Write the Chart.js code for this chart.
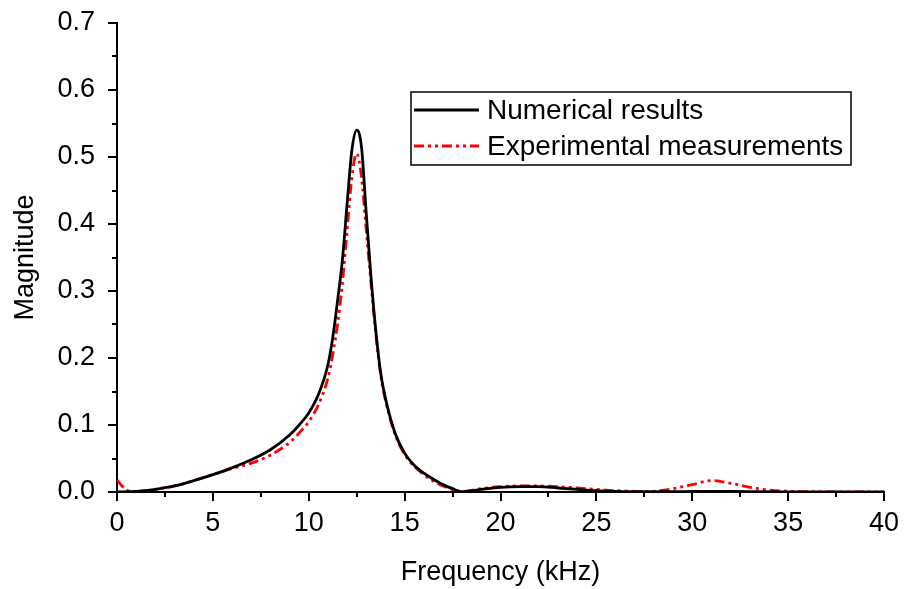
<!DOCTYPE html>
<html>
<head>
<meta charset="utf-8">
<script src="https://cdn.jsdelivr.net/npm/chart.js@4.4.1/dist/chart.umd.min.js"></script>
<style>
    html, body { margin: 0; padding: 0; background: #fff; }
    #wrap { width: 905px; height: 589px; }
</style>
</head>
<body>
<div id="wrap"><canvas id="chart" width="905" height="589"></canvas></div>
<script>
// Frequency (kHz) / magnitude for the numerical model
const numFreq = [0, 0.5, 1, 1.5, 2, 3, 4, 5, 6, 7, 8, 9, 9.5, 10, 10.5, 11, 11.25, 11.5, 11.75,
    12, 12.25, 12.5, 12.75, 13, 13.25, 13.5, 13.75, 14, 14.5, 15, 15.5, 16, 16.5, 17, 17.5, 18,
    19, 20, 21, 22, 23, 24, 25, 26, 28, 30, 31, 33, 35, 40];
const numMag = [0.000, 0.0005, 0.001, 0.002, 0.004, 0.009, 0.017, 0.026, 0.036, 0.048, 0.063, 0.085, 0.100, 0.118, 0.145, 0.190, 0.230, 0.285, 0.345,
    0.430, 0.510, 0.540, 0.515, 0.415, 0.320, 0.240, 0.178, 0.140, 0.088, 0.058, 0.040, 0.028, 0.019, 0.011, 0.005, 0.0005,
    0.004, 0.007, 0.008, 0.008, 0.006, 0.004, 0.002, 0.001, 0.0005, 0.0008, 0.001, 0.0005, 0.0003, 0.0002];

// Frequency (kHz) / magnitude from the measurements
const expFreq = [0, 0.3, 0.7, 1, 2, 3, 4, 5, 6, 7, 8, 9, 9.5, 10, 10.5, 11, 11.25, 11.5, 11.75,
    12, 12.25, 12.5, 12.75, 13, 13.25, 13.5, 13.75, 14, 14.5, 15, 16, 17, 18,
    19, 20, 21, 22, 23, 24, 25, 26, 27, 27.5, 28, 29, 30, 31, 32, 33, 34, 35, 36, 40];
const expMag = [0.018, 0.008, 0.001, 0.001, 0.004, 0.009, 0.017, 0.026, 0.035, 0.043, 0.055, 0.074, 0.088, 0.105, 0.130, 0.170, 0.205, 0.250, 0.310,
    0.390, 0.470, 0.505, 0.470, 0.390, 0.310, 0.235, 0.175, 0.137, 0.086, 0.056, 0.026, 0.009, 0.001,
    0.005, 0.008, 0.009, 0.009, 0.008, 0.006, 0.004, 0.002, 0.001, 0.0005, 0.001, 0.005, 0.011, 0.017, 0.013, 0.007, 0.003, 0.001, 0.0005, 0.0];

const seriesLabels = ['Numerical results', 'Experimental measurements'];
const xTicks = [0, 5, 10, 15, 20, 25, 30, 35, 40];
const yTicks = [0.0, 0.1, 0.2, 0.3, 0.4, 0.5, 0.6, 0.7];

const FONT = "'Liberation Sans', Arial, sans-serif";
const RED_DASH = [10, 4, 3, 4, 3, 4];

const toPoints = (xs, ys) => xs.map((x, i) => ({ x: x, y: ys[i] }));

/**
 * Outward major/minor tick marks on the left and bottom axes
 */
const tickMarks = {
    id: 'tickMarks',
    afterDraw(chart) {
        const ctx = chart.ctx;
        const xs = chart.scales.x;
        const ys = chart.scales.y;
        const area = chart.chartArea;
        ctx.save();
        ctx.strokeStyle = '#000';
        ctx.lineWidth = 2;
        ctx.beginPath();
        for (let v = xs.min; v <= xs.max + 1e-9; v += 2.5) {
            const px = Math.round(xs.getPixelForValue(v));
            const major = Math.abs(v % 5) < 1e-9;
            ctx.moveTo(px, area.bottom);
            ctx.lineTo(px, area.bottom + (major ? 9 : 5));
        }
        for (let v = ys.min; v <= ys.max + 1e-9; v += 0.05) {
            const py = Math.round(ys.getPixelForValue(v));
            const major = Math.abs(Math.round(v * 100) % 10) === 0;
            ctx.moveTo(area.left, py);
            ctx.lineTo(area.left - (major ? 9 : 5), py);
        }
        ctx.stroke();
        ctx.restore();
    }
};

/**
 * Boxed legend in the upper right part of the plot
 */
const boxLegend = {
    id: 'boxLegend',
    afterDraw(chart) {
        const ctx = chart.ctx;
        const box = { x: 411, y: 92, w: 440, h: 73 };
        ctx.save();
        ctx.fillStyle = '#fff';
        ctx.fillRect(box.x, box.y, box.w, box.h);
        ctx.strokeStyle = '#000';
        ctx.lineWidth = 1.5;
        ctx.strokeRect(box.x, box.y, box.w, box.h);
        ctx.font = '28px ' + FONT;
        ctx.textBaseline = 'middle';
        ctx.textAlign = 'left';
        chart.data.datasets.forEach((ds, i) => {
            const y = box.y + 18 + i * 36;
            ctx.strokeStyle = ds.borderColor;
            ctx.lineWidth = ds.borderWidth;
            ctx.setLineDash(ds.borderDash || []);
            ctx.beginPath();
            ctx.moveTo(box.x + 3, y);
            ctx.lineTo(box.x + 68, y);
            ctx.stroke();
            ctx.setLineDash([]);
            ctx.fillStyle = '#000';
            ctx.fillText(ds.label, box.x + 76, y + 1);
        });
        ctx.restore();
    }
};

const ctx = document.getElementById('chart').getContext('2d');

new Chart(ctx, {
    type: 'line',
    data: {
        datasets: [
            {
                label: seriesLabels[0],
                data: toPoints(numFreq, numMag),
                borderColor: '#000000',
                borderWidth: 2.8,
                pointRadius: 0,
                cubicInterpolationMode: 'monotone',
                fill: false
            },
            {
                label: seriesLabels[1],
                data: toPoints(expFreq, expMag),
                borderColor: '#ff0000',
                borderWidth: 2.8,
                borderDash: RED_DASH,
                pointRadius: 0,
                cubicInterpolationMode: 'monotone',
                fill: false
            }
        ]
    },
    options: {
        responsive: false,
        animation: false,
        devicePixelRatio: 1,
        layout: {
            padding: { left: 0, right: 21, top: 23, bottom: 0 }
        },
        plugins: {
            legend: { display: false },
            tooltip: { enabled: false }
        },
        scales: {
            x: {
                type: 'linear',
                min: 0,
                max: 40,
                afterFit: (scale) => {
                    scale.height = 97;
                    scale.paddingLeft = 0;
                    scale.paddingRight = 0;
                },
                afterBuildTicks: (scale) => { scale.ticks = xTicks.map(v => ({ value: v })); },
                grid: { display: false },
                border: { display: true, color: '#000', width: 2 },
                ticks: {
                    padding: 7,
                    color: '#000',
                    font: { family: FONT, size: 27 },
                    maxRotation: 0,
                    callback: (v) => String(v)
                },
                title: {
                    display: true,
                    text: 'Frequency (kHz)',
                    color: '#000',
                    font: { family: FONT, size: 27, lineHeight: 1.2 },
                    padding: { top: 0, bottom: 0 }
                }
            },
            y: {
                type: 'linear',
                min: 0,
                max: 0.7,
                afterFit: (scale) => {
                    scale.width = 117;
                    scale.paddingTop = 0;
                    scale.paddingBottom = 0;
                },
                afterBuildTicks: (scale) => { scale.ticks = yTicks.map(v => ({ value: v })); },
                grid: { display: false },
                border: { display: true, color: '#000', width: 2 },
                ticks: {
                    padding: 14,
                    color: '#000',
                    font: { family: FONT, size: 27 },
                    callback: (v) => Number(v).toFixed(1)
                },
                title: {
                    display: true,
                    text: 'Magnitude',
                    color: '#000',
                    font: { family: FONT, size: 27, lineHeight: 1.2 },
                    padding: { top: 9, bottom: 0 }
                }
            }
        }
    },
    plugins: [tickMarks, boxLegend]
});
</script>
</body>
</html>
